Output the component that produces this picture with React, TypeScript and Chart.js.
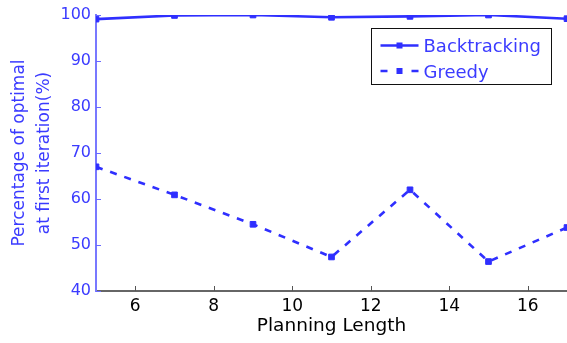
import React, { useEffect, useRef } from 'react';
import { Chart, registerables } from 'chart.js';

Chart.register(...registerables);

const planningLength = [5, 7, 9, 11, 13, 15, 17];
const backtracking = [99.1, 99.9, 100.0, 99.5, 99.7, 100.0, 99.2];
const greedy = [67.0, 60.9, 54.5, 47.4, 62.0, 46.4, 53.8];
const seriesNames = ['Backtracking', 'Greedy'];
const xTickValues = [6, 8, 10, 12, 14, 16];
const yTickValues = [40, 50, 60, 70, 80, 90, 100];
const xTitle = 'Planning Length';
const yTitle = ['Percentage of optimal', 'at first iteration(%)'];

const FONT = '"DejaVu Sans", "Liberation Sans", Arial, sans-serif';
const BLUE = '#2f2fff';
const TEXT_BLUE = '#3b3bff';

const decorPlugin = {
  id: 'decor',
  afterDraw(chart: any) {
    const { ctx, chartArea: ca, scales } = chart;
    const xs = scales.x;
    const ys = scales.y;
    ctx.save();
    ctx.lineWidth = 1;
    ctx.strokeStyle = '#555555';
    xTickValues.forEach((v) => {
      const px = Math.round(xs.getPixelForValue(v)) + 0.5;
      ctx.beginPath();
      ctx.moveTo(px, ca.bottom);
      ctx.lineTo(px, ca.bottom - 5);
      ctx.stroke();
    });
    ctx.strokeStyle = '#6a6aff';
    yTickValues.forEach((v) => {
      const py = Math.round(ys.getPixelForValue(v)) + 0.5;
      ctx.beginPath();
      ctx.moveTo(ca.left, py);
      ctx.lineTo(ca.left + 5, py);
      ctx.stroke();
    });

    const bw = 180;
    const bh = 56;
    const bx = Math.round(ca.right - 16.5 - bw) + 0.5;
    const by = Math.round(ca.top + 12.5) + 0.5;
    ctx.fillStyle = '#ffffff';
    ctx.fillRect(bx, by, bw, bh);
    ctx.strokeStyle = '#111111';
    ctx.lineWidth = 1;
    ctx.strokeRect(bx, by, bw, bh);

    chart.data.datasets.forEach((ds: any, i: number) => {
      const cy = by + 17 + i * 25.5;
      const x0 = bx + 9;
      const x1 = bx + 47;
      const mid = (x0 + x1) / 2;
      ctx.strokeStyle = ds.borderColor;
      ctx.lineWidth = 2.5;
      ctx.setLineDash([]);
      ctx.beginPath();
      if (ds.borderDash && ds.borderDash.length) {
        ctx.moveTo(x0, cy);
        ctx.lineTo(x0 + 7, cy);
        ctx.moveTo(x1 - 7, cy);
        ctx.lineTo(x1, cy);
      } else {
        ctx.moveTo(x0, cy);
        ctx.lineTo(x1, cy);
      }
      ctx.stroke();
      ctx.fillStyle = ds.borderColor;
      ctx.fillRect(mid - 3, cy - 3, 6, 6);
      ctx.fillStyle = TEXT_BLUE;
      ctx.font = `18px ${FONT}`;
      ctx.textBaseline = 'alphabetic';
      ctx.textAlign = 'left';
      ctx.fillText(ds.label, bx + 52, cy + 6.6);
    });
    ctx.restore();
  },
};

export default function App() {
  const ref = useRef<HTMLCanvasElement | null>(null);

  useEffect(() => {
    if (!ref.current) return;
    const chart = new Chart(ref.current, {
      type: 'line',
      data: {
        datasets: [
          {
            label: seriesNames[0],
            data: planningLength.map((x, i) => ({ x, y: backtracking[i] })),
            borderColor: BLUE,
            backgroundColor: BLUE,
            borderWidth: 2.6,
            pointStyle: 'rect',
            pointRadius: 4,
            pointBorderWidth: 1,
            pointBackgroundColor: BLUE,
            pointBorderColor: BLUE,
            tension: 0,
          },
          {
            label: seriesNames[1],
            data: planningLength.map((x, i) => ({ x, y: greedy[i] })),
            borderColor: BLUE,
            backgroundColor: BLUE,
            borderWidth: 2.6,
            borderDash: [7, 8],
            pointStyle: 'rect',
            pointRadius: 4,
            pointBorderWidth: 1,
            pointBackgroundColor: BLUE,
            pointBorderColor: BLUE,
            tension: 0,
          },
        ],
      },
      options: {
        animation: false,
        responsive: false,
        maintainAspectRatio: false,
        layout: { padding: { left: 0, right: 2, top: 15, bottom: 0 } },
        plugins: {
          legend: { display: false },
          tooltip: { enabled: false },
        },
        scales: {
          x: {
            type: 'linear',
            min: 5,
            max: 17,
            afterBuildTicks: (scale: any) => {
              scale.ticks = xTickValues.map((v) => ({ value: v }));
            },
            afterFit: (scale: any) => {
              scale.height = 52;
            },
            grid: { display: false, drawTicks: false },
            border: { display: true, color: '#666666', width: 2 },
            ticks: {
              color: '#000000',
              padding: 5,
              font: { family: FONT, size: 17 },
              maxRotation: 0,
            },
            title: {
              display: true,
              text: xTitle,
              color: '#000000',
              font: { family: FONT, size: 18.5 },
              padding: { top: 0, bottom: 6 },
            },
          },
          y: {
            type: 'linear',
            min: 40,
            max: 100,
            afterBuildTicks: (scale: any) => {
              scale.ticks = yTickValues.map((v) => ({ value: v }));
            },
            afterFit: (scale: any) => {
              scale.width = 96;
            },
            grid: { display: false, drawTicks: false },
            border: { display: true, color: '#7878ff', width: 2 },
            ticks: {
              color: TEXT_BLUE,
              padding: 5,
              font: { family: FONT, size: 16 },
            },
            title: {
              display: true,
              text: yTitle,
              color: TEXT_BLUE,
              font: { family: FONT, size: 17, lineHeight: 1.44 },
              padding: { top: 7.5, bottom: 0 },
            },
          },
        },
      },
      plugins: [decorPlugin],
    } as any);
    return () => chart.destroy();
  }, []);

  return (
    <div
      style={{
        position: 'fixed',
        left: 0,
        top: 0,
        width: 567,
        height: 343,
        overflow: 'hidden',
        background: '#ffffff',
      }}
    >
      <canvas ref={ref} width={572} height={343} style={{ display: 'block' }} />
    </div>
  );
}
